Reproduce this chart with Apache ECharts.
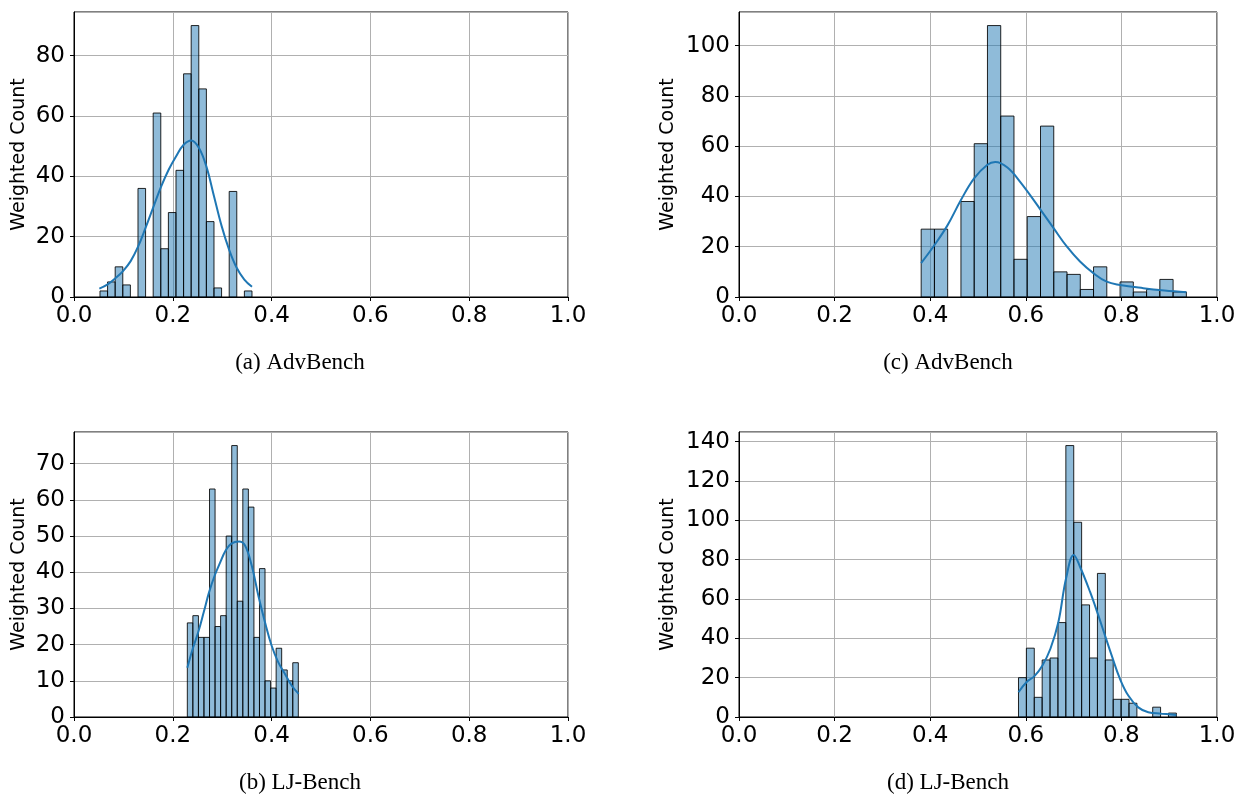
<!DOCTYPE html>
<html><head><meta charset="utf-8">
<script src="https://cdn.jsdelivr.net/npm/echarts@6/dist/echarts.min.js"></script>
<style>html,body{margin:0;padding:0;background:#fff}#c{width:1241px;height:794px}</style>
</head><body><div id="c"></div>
<script>
// ---- text ----
const captions = ['(a) AdvBench', '(b) LJ-Bench', '(c) AdvBench', '(d) LJ-Bench'];
const yAxisName = 'Weighted Count';

// ---- panel (a) AdvBench, top-left ----
const aBinRange = [0.0526, 0.3603];
const aCounts = [2, 5, 10, 4, 0, 36, 0, 61, 16, 28, 42, 74, 90, 69, 25, 3, 0, 35, 0, 2];
const aKdeX = [0.0513, 0.0682, 0.0837, 0.0992, 0.1147, 0.1302, 0.1450, 0.1606, 0.1761, 0.1916, 0.2065, 0.2220, 0.2375, 0.2530, 0.2679, 0.2834, 0.2989, 0.3138, 0.3293, 0.3448, 0.3603];
const aKdeY = [2.8, 4.2, 6.2, 8.6, 11.9, 16.9, 23.0, 29.8, 36.5, 42.2, 46.6, 50.5, 51.9, 49.4, 43.3, 33.4, 23.5, 15.8, 9.7, 5.8, 3.4];
const aYTicks = [0, 20, 40, 60, 80];

// ---- panel (b) LJ-Bench, bottom-left ----
const bBinRange = [0.2294, 0.4541];
const bCounts = [26, 28, 22, 22, 63, 25, 28, 50, 75, 32, 63, 58, 22, 41, 10, 8, 19, 13, 10, 15];
const bKdeX = [0.2294, 0.2402, 0.2514, 0.2627, 0.2735, 0.2848, 0.2962, 0.3070, 0.3185, 0.3340, 0.3462, 0.3596, 0.3731, 0.3866, 0.4001, 0.4136, 0.4271, 0.4406, 0.4547];
const bKdeY = [13.6, 18.8, 23.4, 29.0, 34.5, 39.1, 42.8, 46.0, 47.9, 48.5, 47.4, 41.9, 33.6, 26.2, 19.7, 15.1, 11.9, 8.7, 6.4];
const bYTicks = [0, 10, 20, 30, 40, 50, 60, 70];

// ---- panel (c) AdvBench, top-right ----
const cBinRange = [0.3811, 0.9359];
const cCounts = [27, 27, 0, 38, 61, 108, 72, 15, 32, 68, 10, 9, 3, 12, 0, 6, 2, 3, 7, 2];
const cKdeX = [0.381, 0.4083, 0.4361, 0.4640, 0.4919, 0.5197, 0.536, 0.5615, 0.5894, 0.6306, 0.6585, 0.6857, 0.7134, 0.7413, 0.7692, 0.7970, 0.8458, 0.8900, 0.936];
const cKdeY = [13.5, 20.5, 28.5, 38.5, 47.2, 52.6, 53.7, 51.5, 45.5, 34.8, 27.3, 20.1, 14.1, 9.5, 6.1, 4.8, 3.5, 2.6, 1.9];
const cYTicks = [0, 20, 40, 60, 80, 100];

// ---- panel (d) LJ-Bench, bottom-right ----
const dBinRange = [0.5847, 0.9150];
const dCounts = [20, 35, 10, 29, 30, 48, 138, 99, 57, 30, 73, 29, 9, 9, 7, 0, 0, 5, 0, 2];
const dKdeX = [0.5847, 0.6013, 0.6181, 0.6348, 0.6515, 0.6682, 0.6843, 0.7003, 0.7134, 0.7343, 0.7517, 0.7656, 0.7796, 0.7970, 0.8144, 0.8353, 0.8562, 0.8840, 0.9150];
const dKdeY = [12.6, 17.7, 20.8, 26.2, 34.7, 48.3, 70.5, 82.4, 76.4, 63.7, 51.7, 41.5, 31.3, 19.4, 10.9, 4.9, 2.4, 1.7, 1.0];
const dYTicks = [0, 20, 40, 60, 80, 100, 120, 140];

const xTicks = [0, 0.2, 0.4, 0.6, 0.8, 1.0];

// ---- layout (order: a, b, c, d) ----
const panels = [
  {range: aBinRange, counts: aCounts, kx: aKdeX, ky: aKdeY, yt: aYTicks, grid: {left: 74, top: 12, width: 494, height: 285}, nameGap: 45, cap: [300, 363]},
  {range: bBinRange, counts: bCounts, kx: bKdeX, ky: bKdeY, yt: bYTicks, grid: {left: 74, top: 432, width: 494, height: 285}, nameGap: 45, cap: [300, 783]},
  {range: cBinRange, counts: cCounts, kx: cKdeX, ky: cKdeY, yt: cYTicks, grid: {left: 739, top: 12, width: 478, height: 285}, nameGap: 61, cap: [948, 363]},
  {range: dBinRange, counts: dCounts, kx: dKdeX, ky: dKdeY, yt: dYTicks, grid: {left: 739, top: 432, width: 478, height: 285}, nameGap: 61, cap: [948, 783]}
];

const FONT = 'DejaVu Sans';
const grids = [], xAxes = [], yAxes = [], series = [], graphics = [];

panels.forEach((p, i) => {
  grids.push(Object.assign({show: true, borderColor: '#000', borderWidth: 1, backgroundColor: 'transparent'}, p.grid));
  xAxes.push({
    type: 'value', gridIndex: i, min: xTicks[0], max: xTicks[xTicks.length - 1], interval: xTicks[1] - xTicks[0],
    axisLine: {show: true, onZero: false, lineStyle: {color: '#000', width: 1}},
    axisTick: {show: true, length: 4, lineStyle: {color: '#000'}},
    axisLabel: {fontSize: 23, color: '#000', fontFamily: FONT, margin: 8, formatter: v => v.toFixed(1)},
    splitLine: {show: true, lineStyle: {color: '#b0b0b0', width: 1}}
  });
  const maxCount = Math.max(...p.counts);
  yAxes.push({
    type: 'value', gridIndex: i, min: 0, max: maxCount * 1.05, interval: p.yt[1] - p.yt[0],
    name: yAxisName, nameLocation: 'middle', nameGap: p.nameGap, nameRotate: 90,
    nameTextStyle: {fontSize: 19, color: '#000', fontFamily: FONT},
    axisLine: {show: true, lineStyle: {color: '#000', width: 1}},
    axisTick: {show: true, length: 4, lineStyle: {color: '#000'}},
    axisLabel: {fontSize: 23, color: '#000', fontFamily: FONT, margin: 9, showMaxLabel: false,
      formatter: v => (p.yt.indexOf(v) >= 0 ? String(v) : '')},
    splitLine: {show: true, lineStyle: {color: '#b0b0b0', width: 1}}
  });
  const n = p.counts.length;
  const w = (p.range[1] - p.range[0]) / n;
  const data = p.counts.map((c, k) => [p.range[0] + k * w, p.range[0] + (k + 1) * w, c]);
  series.push({
    type: 'custom', xAxisIndex: i, yAxisIndex: i, data: data,
    encode: {x: [0, 1], y: 2},
    renderItem: (params, api) => {
      const v = api.value(2);
      if (!v) return null;
      const p0 = api.coord([api.value(0), v]);
      const p1 = api.coord([api.value(1), 0]);
      return {type: 'rect', shape: {x: p0[0], y: p0[1], width: p1[0] - p0[0], height: p1[1] - p0[1]},
        style: {fill: 'rgba(31,119,180,0.5)', stroke: 'rgba(0,0,0,0.85)', lineWidth: 1}};
    },
    z: 2
  });
  series.push({
    type: 'line', xAxisIndex: i, yAxisIndex: i, smooth: 0.4, showSymbol: false,
    data: p.kx.map((x, k) => [x, p.ky[k]]),
    lineStyle: {color: '#1f77b4', width: 2}, z: 3
  });
  graphics.push({x: p.cap[0], y: p.cap[1],
    style: {text: captions[i], fill: '#000', font: '23px "Liberation Serif"', textAlign: 'center', textVerticalAlign: 'middle'}});
});

const chart = echarts.init(document.getElementById('c'), null, {renderer: 'canvas'});
chart.setOption({
  animation: false,
  backgroundColor: '#fff',
  grid: grids, xAxis: xAxes, yAxis: yAxes, series: series,
  graphic: graphics.map(g => ({type: 'text', x: g.x, y: g.y, style: g.style}))
});
</script>
</body></html>
